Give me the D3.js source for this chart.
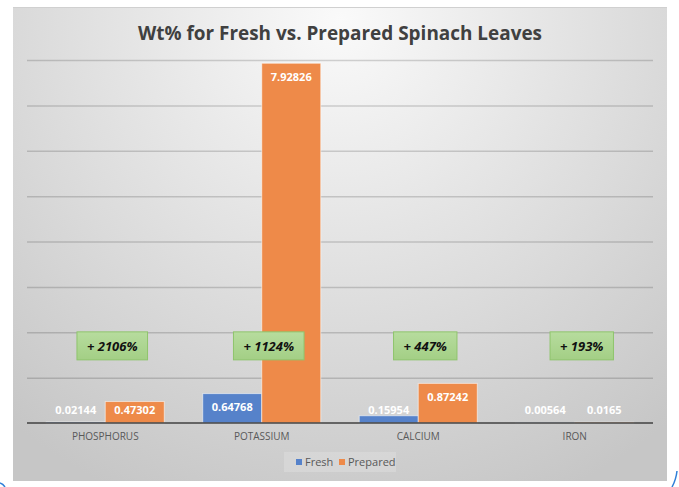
<!DOCTYPE html>
<html>
<head>
<meta charset="utf-8">
<script src="https://cdn.jsdelivr.net/npm/d3@7"></script>
<style>
  body { margin: 0; background: #fff; }
  svg { display: block; font-family: "Open Sans", "Liberation Sans", sans-serif; }
</style>
</head>
<body>
<svg id="chart"></svg>
<script>
const categories = ['PHOSPHORUS', 'POTASSIUM', 'CALCIUM', 'IRON'];
const seriesNames = ['Fresh', 'Prepared'];
const freshValues = [0.02144, 0.64768, 0.15954, 0.00564];
const preparedValues = [0.47302, 7.92826, 0.87242, 0.0165];
const changeLabels = ['+ 2106%', '+ 1124%', '+ 447%', '+ 193%'];
const yTicks = [0, 1, 2, 3, 4, 5, 6, 7, 8];
const title = 'Wt% for Fresh vs. Prepared Spinach Leaves';

const colors = { Fresh: '#5682CA', Prepared: '#EE8A49' };

const W = 679, H = 487;
const margin = { top: 60, right: 26, bottom: 64, left: 27 };
const plotW = W - margin.left - margin.right;
const plotH = H - margin.top - margin.bottom;

const data = categories.map((c, i) => ({
    name: c,
    values: [
        { key: 'Fresh', value: freshValues[i] },
        { key: 'Prepared', value: preparedValues[i] }
    ]
}));

const svg = d3.select('#chart').attr('width', W).attr('height', H);

const defs = svg.append('defs');
const bg = defs.append('radialGradient')
    .attr('id', 'bg')
    .attr('gradientUnits', 'userSpaceOnUse')
    .attr('cx', 340).attr('cy', 20).attr('r', 520);
bg.append('stop').attr('offset', '0%').attr('stop-color', '#fafafa');
bg.append('stop').attr('offset', '100%').attr('stop-color', '#c6c6c6');

const green = defs.append('linearGradient')
    .attr('id', 'green').attr('x1', 0).attr('y1', 0).attr('x2', 0).attr('y2', 1);
green.append('stop').attr('offset', '0%').attr('stop-color', '#b7dc9e');
green.append('stop').attr('offset', '100%').attr('stop-color', '#a3cf85');

// chart panel
svg.append('rect')
    .attr('x', 13).attr('y', 7)
    .attr('width', 654).attr('height', 474)
    .attr('fill', 'url(#bg)');
svg.append('line')
    .attr('x1', 13).attr('x2', 667).attr('y1', 7.5).attr('y2', 7.5)
    .attr('stroke', '#d0d0d0');

// corner selection marks
svg.append('path')
    .attr('d', 'M0,483 Q3,484 5,487')
    .attr('fill', 'none').attr('stroke', '#2f7fd8').attr('stroke-width', 1.5);
svg.append('path')
    .attr('d', 'M677,471 Q676,480 672,487')
    .attr('fill', 'none').attr('stroke', '#2f7fd8').attr('stroke-width', 1.5);

svg.append('text')
    .attr('x', 340).attr('y', 40)
    .attr('text-anchor', 'middle')
    .attr('font-size', 20)
    .attr('font-weight', 'bold')
    .attr('fill', '#404040')
    .attr('textLength', 404)
    .attr('lengthAdjust', 'spacingAndGlyphs')
    .text(title);

const g = svg.append('g')
    .attr('transform', `translate(${margin.left},${margin.top})`);

const x0 = d3.scaleBand()
    .domain(categories)
    .range([0, plotW])
    .paddingInner(0)
    .paddingOuter(0);

const x1 = d3.scaleBand()
    .domain(seriesNames)
    .range([0, x0.bandwidth()])
    .paddingInner(0)
    .paddingOuter(0.326);

const y = d3.scaleLinear()
    .domain([0, 8])
    .range([plotH, 0]);

// gridlines
g.append('g')
    .attr('class', 'grid')
    .call(d3.axisLeft(y).tickValues(yTicks.slice(1)).tickSize(-plotW).tickFormat(''))
    .call((s) => s.select('.domain').remove())
    .call((s) => s.selectAll('line')
        .attr('stroke', '#000')
        .attr('stroke-opacity', 0.16)
        .attr('stroke-width', 1.5));

// bars
const groups = g.selectAll('.cat')
    .data(data)
    .enter()
    .append('g')
    .attr('class', 'cat')
    .attr('transform', (d) => `translate(${x0(d.name)},0)`);

groups.selectAll('rect')
    .data((d) => d.values)
    .enter()
    .append('rect')
    .attr('x', (d) => x1(d.key))
    .attr('y', (d) => y(d.value))
    .attr('width', x1.bandwidth())
    .attr('height', (d) => plotH - y(d.value))
    .attr('fill', (d) => colors[d.key])
    .attr('stroke', 'rgba(255,255,255,0.55)')
    .attr('stroke-width', 1);

groups.selectAll('.val')
    .data((d) => d.values)
    .enter()
    .append('text')
    .attr('class', 'val')
    .attr('x', (d) => x1(d.key) + x1.bandwidth() / 2)
    .attr('y', (d) => Math.min(y(d.value) + 14, plotH - 12.5))
    .attr('dy', '0.35em')
    .attr('text-anchor', 'middle')
    .attr('font-size', 11)
    .attr('font-weight', 'bold')
    .attr('fill', '#fff')
    .text((d) => d.value);

// baseline
g.append('line')
    .attr('x1', 0).attr('x2', plotW)
    .attr('y1', plotH).attr('y2', plotH)
    .attr('stroke', '#404040')
    .attr('stroke-width', 1.5);

// category axis labels
const xAxis = g.append('g')
    .attr('transform', `translate(0,${plotH})`)
    .call(d3.axisBottom(x0).tickSize(0).tickPadding(10));
xAxis.select('.domain').remove();
xAxis.selectAll('text')
    .attr('font-family', '"Open Sans", sans-serif')
    .attr('font-size', 10)
    .attr('fill', '#595959');

// change callouts
const callouts = g.selectAll('.callout')
    .data(categories)
    .enter()
    .append('g')
    .attr('class', 'callout')
    .attr('transform', (d) => `translate(${x0(d) + x0.bandwidth() / 2 + 7},${y(1.7)})`);

callouts.append('text')
    .attr('text-anchor', 'middle')
    .attr('dy', '0.36em')
    .attr('font-size', 13)
    .attr('font-weight', 'bold')
    .attr('font-style', 'italic')
    .attr('fill', '#111')
    .text((d, i) => changeLabels[i]);

callouts.each(function () {
    const sel = d3.select(this);
    const bb = sel.select('text').node().getBBox();
    const w = bb.width + 20;
    sel.insert('rect', 'text')
        .attr('x', -w / 2)
        .attr('y', -14)
        .attr('width', w)
        .attr('height', 28)
        .attr('fill', 'url(#green)')
        .attr('stroke', '#8fc46c')
        .attr('stroke-width', 1);
});

// legend
const legend = svg.append('g').attr('transform', 'translate(284,452)');
legend.append('rect')
    .attr('width', 112).attr('height', 20)
    .attr('fill', '#fff').attr('fill-opacity', 0.18);
const items = legend.selectAll('.item')
    .data(seriesNames)
    .enter()
    .append('g')
    .attr('transform', (d, i) => `translate(${i === 0 ? 12 : 55},10)`);
items.append('rect')
    .attr('x', 0).attr('y', -3)
    .attr('width', 6).attr('height', 6)
    .attr('fill', (d) => colors[d]);
items.append('text')
    .attr('x', 9)
    .attr('dy', '0.35em')
    .attr('font-size', 11)
    .attr('fill', '#595959')
    .text((d) => d);
</script>
</body>
</html>
